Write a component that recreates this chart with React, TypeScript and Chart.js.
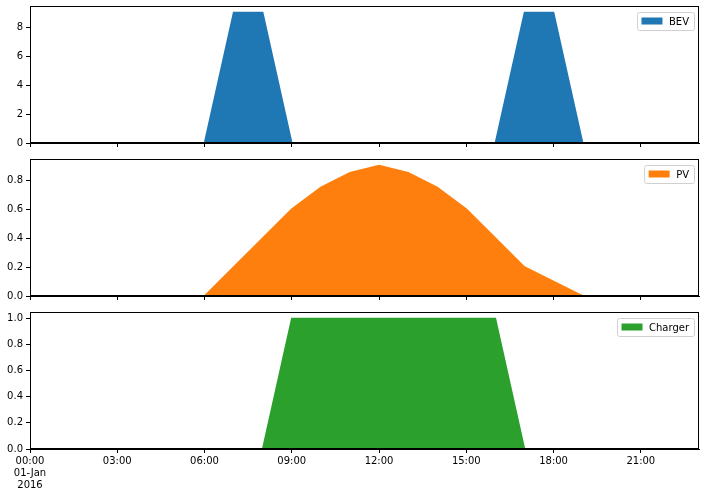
import React, { useEffect, useRef } from "react";
import { Chart, ChartConfiguration, Plugin, registerables } from "chart.js";

Chart.register(...registerables);

const hours = [0, 1, 2, 3, 4, 5, 6, 7, 8, 9, 10, 11, 12, 13, 14, 15, 16, 17, 18, 19, 20, 21, 22, 23];
const tickHours = [0, 3, 6, 9, 12, 15, 18, 21];
const tickLabels = ["00:00", "03:00", "06:00", "09:00", "12:00", "15:00", "18:00", "21:00"];
const firstTickExtra = ["01-Jan", "2016"];

const bevValues = [0, 0, 0, 0, 0, 0, 0, 9, 9, 0, 0, 0, 0, 0, 0, 0, 0, 9, 9, 0, 0, 0, 0, 0];
const pvValues = [0, 0, 0, 0, 0, 0, 0, 0.2, 0.4, 0.6, 0.75, 0.85, 0.9, 0.85, 0.75, 0.6, 0.4, 0.2, 0.1, 0, 0, 0, 0, 0];
const chargerValues = [0, 0, 0, 0, 0, 0, 0, 0, 0, 1, 1, 1, 1, 1, 1, 1, 1, 0, 0, 0, 0, 0, 0, 0];

const FONT = "DejaVu Sans";

interface PanelProps {
  label: string;
  values: number[];
  color: string;
  yMax: number;
  yStep: number;
  decimals: number;
  top: number;
  height: number;
  xAxisHeight: number;
  showXLabels: boolean;
}

// draws the full box around the plot area and a matplotlib-like legend in the top right corner
const frameAndLegend = (label: string, color: string): Plugin => ({
  id: "frameAndLegend",
  afterDraw(chart) {
    const { ctx, chartArea } = chart;
    ctx.save();
    ctx.strokeStyle = "#000";
    ctx.lineWidth = 1;
    ctx.strokeRect(chartArea.left + 0.5, chartArea.top + 0.5, chartArea.right - chartArea.left - 1, chartArea.bottom - chartArea.top - 1);

    ctx.font = `10px "${FONT}"`;
    const tw = ctx.measureText(label).width;
    const w = 4 + 21 + 7 + tw + 5;
    const h = 18;
    const x = chartArea.right - 5 - w;
    const y = chartArea.top + 6;
    ctx.fillStyle = "rgba(255,255,255,0.85)";
    ctx.strokeStyle = "#d0d0d0";
    ctx.beginPath();
    ctx.roundRect(x + 0.5, y + 0.5, w, h, 2);
    ctx.fill();
    ctx.stroke();
    ctx.fillStyle = color;
    ctx.fillRect(x + 4.5, y + 5.5, 21, 7);
    ctx.fillStyle = "#000";
    ctx.textBaseline = "middle";
    ctx.textAlign = "left";
    ctx.fillText(label, x + 32, y + h / 2 + 1);
    ctx.restore();
  },
});

const Panel: React.FC<PanelProps> = (p) => {
  const chartRef = useRef<HTMLCanvasElement | null>(null);
  const chartInstance = useRef<Chart | null>(null);

  useEffect(() => {
    if (!chartRef.current) return;
    if (chartInstance.current) chartInstance.current.destroy();
    const ctx = chartRef.current.getContext("2d");
    if (!ctx) return;

    const config: ChartConfiguration = {
      type: "line",
      data: {
        datasets: [
          {
            label: p.label,
            data: hours.map((h, i) => ({ x: h, y: p.values[i] })),
            borderColor: p.color,
            backgroundColor: p.color,
            borderWidth: 1.5,
            fill: "origin",
            pointRadius: 0,
            tension: 0,
          },
        ],
      },
      options: {
        animation: false,
        responsive: false,
        layout: { padding: { top: 6, right: 7, left: 0, bottom: 0 } },
        plugins: { legend: { display: false }, tooltip: { enabled: false } },
        scales: {
          x: {
            type: "linear",
            min: 0,
            max: 23,
            afterBuildTicks: (scale) => {
              scale.ticks = tickHours.map((v) => ({ value: v }));
            },
            afterFit: (scale) => {
              scale.height = p.xAxisHeight;
            },
            border: { color: "#000", width: 1 },
            grid: { drawOnChartArea: false, drawTicks: true, tickLength: 4, tickColor: "#000" },
            ticks: {
              autoSkip: false,
              maxRotation: 0,
              padding: 2,
              color: "#000",
              font: { family: FONT, size: 10 },
              callback: (v) => {
                if (!p.showXLabels) return "";
                const i = tickHours.indexOf(Number(v));
                if (i < 0) return "";
                return i === 0 ? [tickLabels[0], ...firstTickExtra] : tickLabels[i];
              },
            },
          },
          y: {
            min: 0,
            max: p.yMax,
            afterBuildTicks: (scale) => {
              const t = [];
              for (let v = 0; v <= p.yMax + 1e-9; v += p.yStep) t.push({ value: Math.round(v * 1000) / 1000 });
              scale.ticks = t;
            },
            afterFit: (scale) => {
              scale.width = 30;
              scale.paddingTop = 0;
              scale.paddingBottom = 0;
            },
            border: { color: "#000", width: 1 },
            grid: { drawOnChartArea: false, drawTicks: true, tickLength: 4, tickColor: "#000" },
            ticks: {
              padding: 3,
              color: "#000",
              font: { family: FONT, size: 10 },
              callback: (v) => Number(v).toFixed(p.decimals),
            },
          },
        },
      },
      plugins: [frameAndLegend(p.label, p.color)],
    };

    chartInstance.current = new Chart(ctx, config);
    return () => {
      if (chartInstance.current) {
        chartInstance.current.destroy();
        chartInstance.current = null;
      }
    };
  }, []);

  return (
    <canvas
      ref={chartRef}
      width={706}
      height={p.height}
      style={{ position: "absolute", left: 0, top: p.top, width: 706, height: p.height }}
    />
  );
};

const App: React.FC = () => (
  <div style={{ position: "fixed", left: 0, top: 0, width: 706, height: 496, background: "#fff" }}>
    <Panel label="BEV" values={bevValues} color="#1f77b4" yMax={9.45} yStep={2} decimals={0}
      top={0} height={152} xAxisHeight={9} showXLabels={false} />
    <Panel label="PV" values={pvValues} color="#ff7f0e" yMax={0.945} yStep={0.2} decimals={1}
      top={153} height={152} xAxisHeight={9} showXLabels={false} />
    <Panel label="Charger" values={chargerValues} color="#2ca02c" yMax={1.05} yStep={0.2} decimals={1}
      top={306} height={190} xAxisHeight={47} showXLabels={true} />
  </div>
);

export default App;
